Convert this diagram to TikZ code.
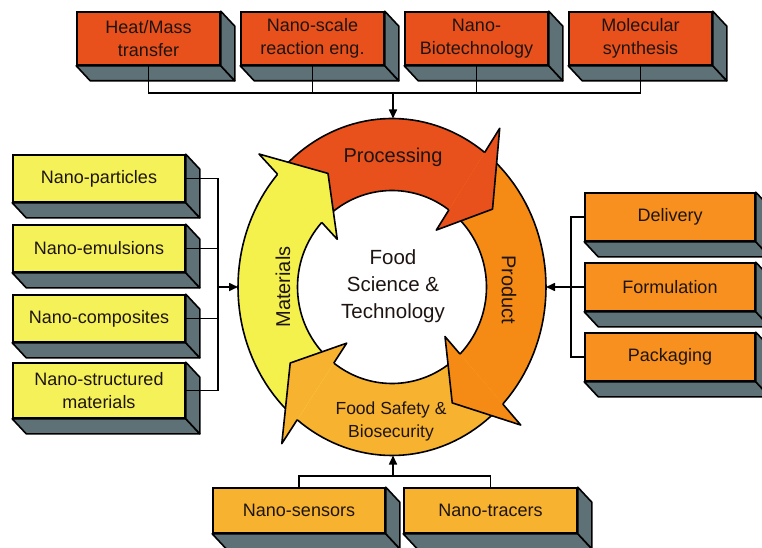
\documentclass[tikz,border=0pt]{standalone}
\usepackage{fontspec}
\setmainfont{Liberation Sans}
\usetikzlibrary{arrows.meta}
\definecolor{cRed}{HTML}{E8501C}
\definecolor{cOrange}{HTML}{F58B14}
\definecolor{cOrangeBox}{HTML}{F7901E}
\definecolor{cGold}{HTML}{F7B230}
\definecolor{cYellow}{HTML}{F4F04C}
\definecolor{cYellowBox}{HTML}{F5F158}
\definecolor{cSide}{HTML}{5D7176}
\definecolor{cText}{HTML}{1E1512}
\tikzset{
  front/.style={draw=black, line width=1.6pt, inner sep=0pt, align=center, text=cText,
    font=\fontsize{18}{23}\selectfont},
  sideface/.style={fill=cSide, draw=black, line width=1.6pt, line join=round},
  conn/.style={draw=black, line width=1.6pt},
  connarrow/.style={conn, -{Triangle[length=9pt,width=8pt]}},
  ringline/.style={draw=black, line width=1.6pt, line join=round},
  ringlabel/.style={text=cText, align=center, inner sep=0pt},
}
% 3D box: name, center, width, height, fill, text
\newcommand{\tdbox}[6]{%
  \node[front, fill=#5, minimum width=#3, minimum height=#4] (#1) at #2 {#6};
  \path[sideface] (#1.south west) -- (#1.south east) -- ([shift={(14,15)}]#1.south east) -- ([shift={(14,15)}]#1.south west) -- cycle;
  \path[sideface] (#1.north east) -- ([shift={(14,15)}]#1.north east) -- ([shift={(14,15)}]#1.south east) -- (#1.south east) -- cycle;
  \node[front, fill=#5, minimum width=#3, minimum height=#4] at #2 {#6};
}
% ring geometry
\newcommand{\rpt}[2]{({392+(94.5+(#2)*59.5)*cos(#1)},{287-(96.5+(#2)*72)*sin(#1)})}
% body: start angle, base angle, colour
\newcommand{\ringbody}[3]{%
  \fill[#3] plot[domain=#1:#2-2, samples=40] ({392+154*cos(\x)},{287-168.5*sin(\x)})
     -- plot[domain=#2-2:#1, samples=40] ({392+94.5*cos(\x)},{287-96.5*sin(\x)}) -- cycle;
}
\newcommand{\ringedge}[2]{%
  \draw[ringline] plot[domain=#1:#2-2, samples=40] ({392+154*cos(\x)},{287-168.5*sin(\x)});
  \draw[ringline] plot[domain=#1:#2-2, samples=40] ({392+94.5*cos(\x)},{287-96.5*sin(\x)});
}
\newcommand{\ringhead}[2]{%
  \fill[#2] \rpt{#1}{1} -- \rpt{#1}{1.42} -- \rpt{#1-17}{0.5} -- \rpt{#1}{-0.35} -- \rpt{#1}{0} -- cycle;
  \draw[ringline] \rpt{#1}{1} -- \rpt{#1}{1.42} -- \rpt{#1-17}{0.5} -- \rpt{#1}{-0.35} -- \rpt{#1}{0};
}
\begin{document}
\begin{tikzpicture}[x=1pt, y=-1pt]
\useasboundingbox[fill=white] (0,0) rectangle (762,548);

% ---- ring ----
\ringbody{138}{53}{cRed}
\ringbody{53}{-44}{cOrange}
\ringbody{316}{232}{cGold}
\ringbody{232}{138}{cYellow}
\ringedge{138}{53}
\ringedge{53}{-44}
\ringedge{316}{232}
\ringedge{232}{138}
\ringhead{53}{cRed}
\ringhead{-44}{cOrange}
\ringhead{232}{cGold}
\ringhead{138}{cYellow}

\node[ringlabel, font=\fontsize{20}{24}\selectfont] (proc) at (393,157) {Processing};
\node[ringlabel, font=\fontsize{20}{24}\selectfont, rotate=-90] (prod) at (509,290) {Product};
\node[ringlabel, font=\fontsize{20}{24}\selectfont, rotate=90] (mat) at (283,287) {Materials};
\node[ringlabel, font=\fontsize{17.5}{23}\selectfont] (safe) at (391,421) {Food Safety \&\\Biosecurity};
\node[ringlabel, font=\fontsize{20.5}{27}\selectfont] (fst) at (393,286) {Food\\Science \&\\Technology};

\coordinate (ringT) at (393,118.5);
\coordinate (ringB) at (393,455.5);
\coordinate (ringL) at (238,287);
\coordinate (ringR) at (546,287);

% ---- top boxes ----
\tdbox{t1}{(148.5,38.5)}{143pt}{53pt}{cRed}{Heat/Mass\\transfer}
\tdbox{t2}{(312.5,38.5)}{143pt}{53pt}{cRed}{Nano-scale\\reaction eng.}
\tdbox{t3}{(476.5,38.5)}{143pt}{53pt}{cRed}{Nano-\\Biotechnology}
\tdbox{t4}{(640.5,38.5)}{143pt}{53pt}{cRed}{Molecular\\synthesis}
\coordinate (topJ) at (393,92);
\draw[conn] (t1.south) -- ++(0,27) -| (t4.south);
\draw[conn] (t2.south) -- ++(0,27);
\draw[conn] (t3.south) -- ++(0,27);
\draw[connarrow] (topJ) -- (ringT);

% ---- left boxes ----
\tdbox{l1}{(99,178.5)}{172pt}{47pt}{cYellowBox}{Nano-particles}
\tdbox{l2}{(99,248.5)}{172pt}{47pt}{cYellowBox}{Nano-emulsions}
\tdbox{l3}{(99,318.5)}{172pt}{47pt}{cYellowBox}{Nano-composites}
\tdbox{l4}{(99,390.5)}{172pt}{55pt}{cYellowBox}{Nano-structured\\materials}
\coordinate (leftJ) at (217,287);
\draw[conn] (l1.east) -- ++(32,0) |- (l4.east);
\draw[conn] (l2.east) -- ++(32,0);
\draw[conn] (l3.east) -- ++(32,0);
\draw[connarrow] (leftJ) -- (ringL);

% ---- right boxes ----
\tdbox{r1}{(670,217)}{170pt}{48pt}{cOrangeBox}{Delivery}
\tdbox{r2}{(670,287)}{170pt}{48pt}{cOrangeBox}{Formulation}
\tdbox{r3}{(670,357)}{170pt}{48pt}{cOrangeBox}{Packaging}
\coordinate (rightJ) at (572,287);
\draw[conn] (r1.west) -- ++(-13,0) |- (r3.west);
\draw[conn] (r2.west) -- (rightJ);
\draw[connarrow] (rightJ) -- (ringR);

% ---- bottom boxes ----
\tdbox{b1}{(299,510.5)}{172pt}{45pt}{cGold}{Nano-sensors}
\tdbox{b2}{(490.5,510.5)}{173pt}{45pt}{cGold}{Nano-tracers}
\coordinate (botJ) at (393,477);
\draw[conn] (b1.north) -- ++(0,-11) -| (b2.north);
\draw[connarrow] (botJ) -- (ringB);
\end{tikzpicture}
\end{document}
